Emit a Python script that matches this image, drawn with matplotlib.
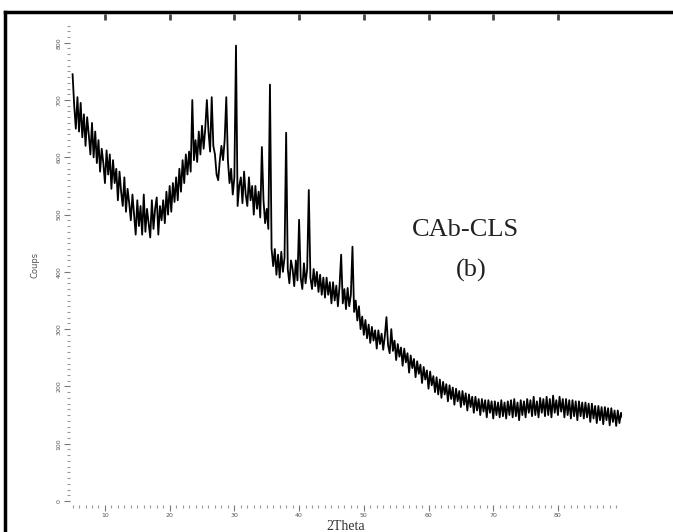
import numpy as np
import matplotlib
matplotlib.use("Agg")
import matplotlib.pyplot as plt
from matplotlib.lines import Line2D
from matplotlib.ticker import MultipleLocator

# ---- data, 2Theta from 5 to 90 in steps of 0.25 ----
theta_start = 5.0
theta_step = 0.25
counts = [
    745, 690, 650, 705,  645, 695, 635, 675,  620, 670, 640, 605,  660, 600, 645, 590,
    630, 575, 615, 590,  555, 612, 570, 605,  545, 595, 555, 580,  525, 575, 540, 515,
    565, 505, 545, 520,  490, 535, 500, 465,  525, 480, 515, 465,  535, 470, 510, 485,
    460, 525, 475, 510,  530, 465, 515, 490,  525, 485, 540, 500,  550, 505, 555, 522,
    565, 525, 580, 540,  595, 555, 605, 570,  610, 575, 700, 595,  630, 592, 645, 605,
    655, 615, 650, 700,  645, 610, 705, 620,  605, 570, 560, 595,  620, 595, 630, 705,
    595, 555, 580, 535,  565, 795, 515, 550,  565, 520, 575, 535,  515, 565, 525, 550,
    500, 550, 510, 540,  495, 618, 525, 485,  510, 475, 727, 440,  410, 440, 395, 430,
    390, 435, 400, 425,  643, 405, 380, 420,  405, 375, 420, 385,  491, 390, 370, 415,
    380, 405, 543, 390,  370, 405, 375, 400,  365, 395, 360, 390,  355, 390, 360, 382,
    345, 382, 350, 376,  340, 375, 430, 345,  370, 335, 372, 340,  360, 444, 330, 350,
    315, 340, 300, 322,  290, 316, 284, 308,  276, 304, 280, 298,  266, 298, 274, 292,
    264, 288, 321, 272,  258, 300, 262, 280,  246, 274, 252, 268,  236, 266, 242, 258,
    224, 254, 232, 248,  216, 244, 222, 238,  206, 234, 212, 228,  196, 226, 202, 218,
    190, 216, 186, 212,  180, 208, 186, 204,  174, 202, 178, 198,  168, 196, 174, 192,
    164, 192, 168, 188,  158, 186, 164, 182,  154, 182, 158, 178,  150, 178, 156, 176,
    146, 176, 154, 174,  144, 174, 150, 172,  146, 176, 148, 172,  144, 174, 150, 176,
    146, 178, 148, 172,  141, 176, 150, 174,  146, 178, 154, 176,  148, 182, 150, 174,
    146, 180, 154, 178,  148, 182, 150, 178,  146, 184, 154, 176,  150, 182, 156, 178,
    146, 178, 150, 176,  144, 176, 148, 174,  141, 174, 148, 172,  144, 172, 146, 170,
    138, 170, 144, 166,  136, 166, 141, 164,  134, 164, 141, 162,  132, 162, 138, 158,
    131, 158, 136, 154,  145,
]
two_theta = theta_start + theta_step * np.arange(len(counts))

x_ticks = [10, 20, 30, 40, 50, 60, 70, 80]
y_ticks = [0, 100, 200, 300, 400, 500, 600, 700, 800]

W, H = 673, 532
fig = plt.figure(figsize=(W / 100, H / 100), dpi=100)
fig.patch.set_facecolor("white")

left, right, top, bottom = 70, 622, 25, 505
ax = fig.add_axes([left / W, 1 - bottom / H, (right - left) / W, (bottom - top) / H])
ax.plot(two_theta, counts, color="black", lw=1.3)
ax.set_xlim(4.6, 89.9)
ax.set_ylim(-7, 831)

for s in ax.spines.values():
    s.set_visible(False)
ax.set_xticks(x_ticks)
ax.set_yticks(y_ticks)
ax.xaxis.set_minor_locator(MultipleLocator(1))
ax.yaxis.set_minor_locator(MultipleLocator(10))
ax.tick_params(which="major", length=4, width=0.8, color="#777777",
               labelsize=4.5, labelcolor="#555555", pad=2)
ax.tick_params(which="minor", length=2, width=0.8, color="#999999")
for lab in ax.get_yticklabels():
    lab.set_rotation(90)
    lab.set_va("center")

ax.set_xlabel("2Theta", fontsize=10, family="Liberation Serif", color="#333333", labelpad=1)
ax.set_ylabel("Coups", fontsize=6, color="#555555", labelpad=12)

# top mirror ticks
sec = ax.secondary_xaxis(1 + 11 / (bottom - top))
sec.set_xticks(x_ticks)
sec.tick_params(direction="in", length=4, width=2, color="#444444", labeltop=False)
sec.spines["top"].set_visible(False)

# annotation
ax.text(0.717, 0.573, "CAb-CLS", transform=ax.transAxes, ha="center", va="center",
        fontsize=19, family="Liberation Serif", color="#222222")
ax.text(0.727, 0.488, "(b)", transform=ax.transAxes, ha="center", va="center",
        fontsize=19, family="Liberation Serif", color="#222222")

# outer frame (left and top edges)
fig.add_artist(Line2D([5 / W, 5 / W], [0, 1 - 12 / H], color="black", lw=2.5,
                      transform=fig.transFigure))
fig.add_artist(Line2D([5 / W, 1], [1 - 12 / H, 1 - 12 / H], color="black", lw=2.5,
                      transform=fig.transFigure))

fig.savefig("out.png", dpi=100)
